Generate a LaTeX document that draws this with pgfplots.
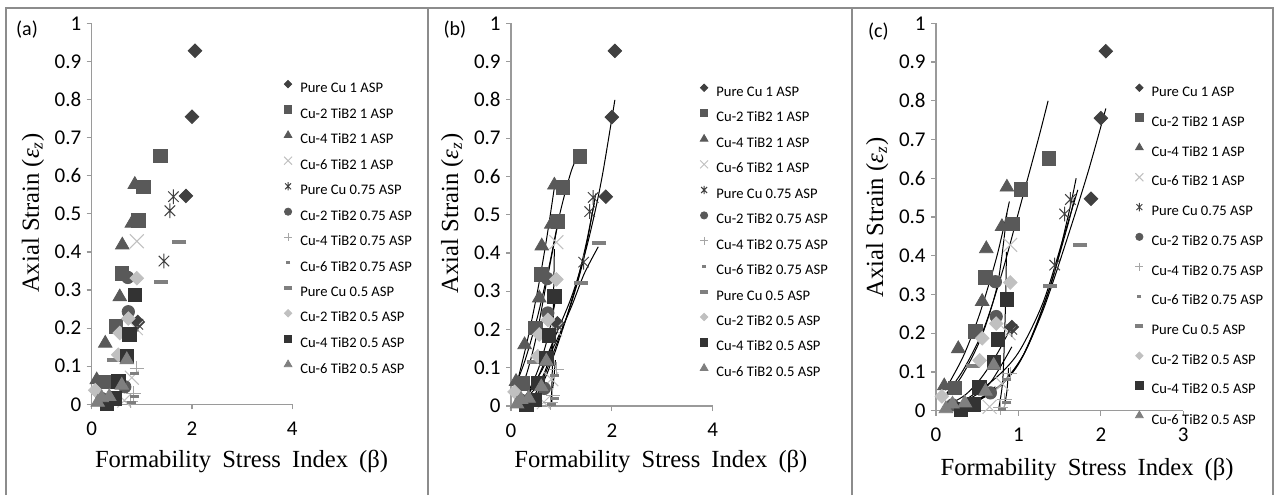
\documentclass[border=0pt]{standalone}
\usepackage{pgfplots}
\pgfplotsset{compat=1.18}
\usepackage{pgfplotstable}
\usepackage{fontspec}
\setmainfont{Carlito}
\newfontfamily\serif{Liberation Serif}

\definecolor{dk}{HTML}{404040}
\definecolor{md}{HTML}{595959}
\definecolor{gr}{HTML}{7F7F7F}
\definecolor{lt}{HTML}{A6A6A6}
\definecolor{vl}{HTML}{C0C0C0}
\definecolor{bk}{HTML}{333333}
\definecolor{axisgray}{HTML}{9A9A9A}
\definecolor{framegray}{HTML}{8C8C8C}

% X with a vertical bar through it
\pgfdeclareplotmark{xstar}{%
  \pgfpathmoveto{\pgfqpoint{-.7071\pgfplotmarksize}{-.7071\pgfplotmarksize}}%
  \pgfpathlineto{\pgfqpoint{.7071\pgfplotmarksize}{.7071\pgfplotmarksize}}%
  \pgfpathmoveto{\pgfqpoint{-.7071\pgfplotmarksize}{.7071\pgfplotmarksize}}%
  \pgfpathlineto{\pgfqpoint{.7071\pgfplotmarksize}{-.7071\pgfplotmarksize}}%
  \pgfpathmoveto{\pgfqpoint{0pt}{-\pgfplotmarksize}}%
  \pgfpathlineto{\pgfqpoint{0pt}{\pgfplotmarksize}}%
  \pgfusepathqstroke}

% measured points: formability stress index vs axial strain
\pgfplotstableread{
x y
0.92 0.216
1.88 0.547
2.00 0.755
2.06 0.928
}\tA
\pgfplotstableread{
x y
0.23 0.059
0.48 0.204
0.60 0.344
0.93 0.482
1.03 0.571
1.37 0.652
}\tB
\pgfplotstableread{
x y
0.10 0.064
0.27 0.160
0.56 0.282
0.61 0.418
0.80 0.475
0.86 0.577
}\tC
\pgfplotstableread{
x y
0.65 0.010
0.80 0.070
0.88 0.200
0.90 0.428
}\tD
\pgfplotstableread{
x y
0.92 0.210
1.44 0.376
1.56 0.508
1.63 0.545
}\tE
\pgfplotstableread{
x y
0.20 0.015
0.66 0.046
0.73 0.243
0.72 0.333
}\tF
\pgfplotstableread{
x y
0.78 0.008
0.83 0.028
0.90 0.095
}\tG
\pgfplotstableread{
x y
0.80 0.004
0.86 0.020
0.86 0.080
}\tH
\pgfplotstableread{
x y
0.45 0.116
1.38 0.322
1.75 0.427
}\tI
\pgfplotstableread{
x y
0.07 0.037
0.53 0.130
0.56 0.187
0.73 0.225
0.90 0.331
}\tJ
\pgfplotstableread{
x y
0.30 0.003
0.46 0.016
0.53 0.060
0.70 0.125
0.75 0.184
0.86 0.287
}\tK
\pgfplotstableread{
x y
0.12 0.005
0.20 0.017
0.35 0.020
0.60 0.050
0.70 0.117
}\tL

\pgfplotsset{
  lim/.style={legend image code/.code={%
      \path[draw=none, fill=none] (-2pt,0.3pt) rectangle (2pt,4.3pt);
      \draw[##1, mark size=#1] plot coordinates {(0pt,2.3pt)};}},
  sA/.style={only marks, color=dk, mark=square*, mark size=2.4pt, mark options={rotate=45}, lim=1.3pt},
  sB/.style={only marks, color=md, mark=square*, mark size=3.4pt, lim=1.8pt},
  sC/.style={only marks, color=md, mark=triangle*, mark size=3.9pt, lim=2.2pt},
  sD/.style={only marks, color=vl, mark=x, mark size=4.9pt, mark options={line width=0.5pt}, lim=2.8pt},
  sE/.style={only marks, color=dk, mark=xstar, mark size=3.7pt, mark options={line width=0.5pt}, lim=2.1pt},
  sF/.style={only marks, color=md, mark=*, mark size=3.1pt, lim=1.8pt},
  sG/.style={only marks, color=lt, mark=+, mark size=3.6pt, mark options={line width=0.5pt}, lim=2pt},
  sH/.style={only marks, color=gr, mark=-, mark size=2.2pt, mark options={line width=1.5pt}, lim=1pt},
  sI/.style={only marks, color=gr, mark=-, mark size=3.5pt, mark options={line width=2pt}, lim=2pt},
  sJ/.style={only marks, color=vl, mark=square*, mark size=2.4pt, mark options={rotate=45}, lim=1.3pt},
  sK/.style={only marks, color=bk, mark=square*, mark size=3.4pt, lim=1.8pt},
  sL/.style={only marks, color=gr, mark=triangle*, mark size=3.9pt, lim=2.2pt},
  fit/.style={black, line width=0.5pt, smooth, mark=none, forget plot},
  panel/.style={
    scale only axis, clip=false,
    axis lines=left, axis line style={-, draw=axisgray, line width=0.6pt},
    tick style={draw=axisgray, line width=0.6pt},
    tick align=outside, major tick length=2.5pt,
    ymin=0, ymax=1, ytick={0,0.1,...,1},
    /pgf/number format/assume math mode=true,
    ticklabel style={font=\fontsize{10.5pt}{12pt}\selectfont},
    yticklabel style={inner sep=0pt, xshift=-2.5pt},
    xticklabel style={inner sep=0pt, yshift=-6pt},
    label style={font=\serif\fontsize{12.3pt}{14pt}\selectfont},
    legend cell align=left,
    legend style={draw=none, fill=none, anchor=north west, inner sep=0pt,
      column sep=4.1pt, font=\fontsize{7.3pt}{8pt}\selectfont,
      nodes={inner sep=0pt, text height=5.5pt, text depth=1.5pt}},
  },
}

\newcommand{\scatterall}{%
  \addplot[sA] table {\tA}; \addlegendentry{Pure Cu 1 ASP}
  \addplot[sB] table {\tB}; \addlegendentry{Cu-2 TiB2 1 ASP}
  \addplot[sC] table {\tC}; \addlegendentry{Cu-4 TiB2 1 ASP}
  \addplot[sD] table {\tD}; \addlegendentry{Cu-6 TiB2 1 ASP}
  \addplot[sE] table {\tE}; \addlegendentry{Pure Cu 0.75 ASP}
  \addplot[sF] table {\tF}; \addlegendentry{Cu-2 TiB2 0.75 ASP}
  \addplot[sG] table {\tG}; \addlegendentry{Cu-4 TiB2 0.75 ASP}
  \addplot[sH] table {\tH}; \addlegendentry{Cu-6 TiB2 0.75 ASP}
  \addplot[sI] table {\tI}; \addlegendentry{Pure Cu 0.5 ASP}
  \addplot[sJ] table {\tJ}; \addlegendentry{Cu-2 TiB2 0.5 ASP}
  \addplot[sK] table {\tK}; \addlegendentry{Cu-4 TiB2 0.5 ASP}
  \addplot[sL] table {\tL}; \addlegendentry{Cu-6 TiB2 0.5 ASP}
}
\newcommand{\ylab}{Axial Strain (\textit{ε}\textsubscript{\textit{z}})}
\newcommand{\xlab}{Formability\hspace{0.45em}Stress\hspace{0.45em}Index\hspace{0.45em}(β)}

\begin{document}
\begin{tikzpicture}
\useasboundingbox (0pt,0pt) rectangle (637.5pt,247.5pt);
\fill[white] (0pt,0pt) rectangle (637.5pt,247.5pt);
% panel frames
\draw[framegray, line width=0.7pt] (3pt,0pt) -- (3pt,243.5pt) -- (636.5pt,243.5pt) -- (636.5pt,0pt);
\draw[framegray, line width=0.7pt] (214pt,0pt) -- (214pt,243.5pt);
\draw[framegray, line width=0.7pt] (426pt,0pt) -- (426pt,243.5pt);

% (a) data points
\begin{axis}[panel, at={(45.85pt,45.35pt)}, anchor=south west,
  width=100.3pt, height=190.5pt, xmin=0, xmax=4, xtick={0,2,4},
  xlabel={\xlab}, ylabel={\ylab},
  xlabel style={at={(axis description cs:0.747,-0.1514)}, anchor=center},
  ylabel style={at={(axis description cs:-0.2926,0.502)}, anchor=center},
  legend style={at={(axis description cs:0.957,0.852)}, row sep=4.9pt}]
\scatterall
\end{axis}
\node[font=\fontsize{10pt}{12pt}\selectfont] at (13.5pt,232.5pt) {(a)};

% (b) data points with polynomial fits
\begin{axis}[panel, at={(255.5pt,44.5pt)}, anchor=south west,
  width=100.85pt, height=191.35pt, xmin=0, xmax=4, xtick={0,2,4},
  xlabel={\xlab}, ylabel={\ylab},
  xlabel style={at={(axis description cs:0.743,-0.1455)}, anchor=center},
  ylabel style={at={(axis description cs:-0.291,0.5035)}, anchor=center},
  legend style={at={(axis description cs:0.9356,0.843)}, row sep=4.9pt}]
\scatterall
\addplot[fit] coordinates {(0.08,0.05)(0.28,0.12)(0.51,0.225)(0.74,0.355)(0.97,0.503)(1.2,0.616)(1.37,0.664)};
\addplot[fit] coordinates {(0.12,0.06)(0.34,0.18)(0.54,0.31)(0.71,0.44)(0.87,0.58)};
\addplot[fit] coordinates {(0.1,0.02)(0.3,0.08)(0.5,0.18)(0.7,0.32)(0.95,0.49)};
\addplot[fit] coordinates {(0.15,0.005)(0.35,0.04)(0.55,0.1)(0.75,0.19)(0.9,0.29)};
\addplot[fit] coordinates {(0.12,0.0)(0.3,0.02)(0.5,0.05)(0.7,0.1)(0.92,0.22)};
\addplot[fit] coordinates {(0.80,0.0)(0.82,0.1)(0.84,0.25)(0.86,0.41)};
\addplot[fit] coordinates {(0.78,0.005)(0.84,0.06)(0.88,0.12)};
\addplot[fit] coordinates {(0.28,0.016)(0.54,0.077)(0.87,0.18)(1.2,0.285)(1.47,0.40)(1.67,0.51)(1.83,0.616)(2.06,0.80)};
\addplot[fit] coordinates {(0.35,0.005)(0.6,0.06)(0.9,0.16)(1.2,0.27)(1.45,0.39)(1.68,0.555)};
\addplot[fit] coordinates {(0.3,0.025)(0.6,0.09)(0.9,0.17)(1.2,0.26)(1.45,0.345)(1.73,0.416)};
\addplot[fit] coordinates {(0.4,0.0)(0.7,0.08)(1.0,0.19)(1.3,0.32)(1.5,0.43)(1.65,0.53)};
\end{axis}
\node[font=\fontsize{10pt}{12pt}\selectfont] at (227.5pt,232.5pt) {(b)};

% (c) data points with exponential fits
\begin{axis}[panel, at={(468pt,42.15pt)}, anchor=south west,
  width=123.65pt, height=193.7pt, xmin=0, xmax=3, xtick={0,1,2,3},
  xlabel={\xlab}, ylabel={\ylab},
  xlabel style={at={(axis description cs:0.611,-0.1513)}, anchor=center},
  ylabel style={at={(axis description cs:-0.2374,0.4987)}, anchor=center},
  legend style={at={(axis description cs:0.8046,0.845)}, row sep=7.05pt}]
\scatterall
\addplot[fit] coordinates {(0.13,0.045)(0.33,0.105)(0.575,0.209)(0.80,0.355)(1.02,0.527)(1.24,0.70)(1.36,0.80)};
\addplot[fit] coordinates {(0.11,0.053)(0.33,0.14)(0.53,0.25)(0.74,0.40)(0.89,0.54)};
\addplot[fit] coordinates {(0.08,0.03)(0.3,0.085)(0.55,0.19)(0.75,0.33)(0.86,0.51)};
\addplot[fit] coordinates {(0.1,0.01)(0.35,0.04)(0.55,0.085)(0.75,0.15)(0.92,0.22)};
\addplot[fit] coordinates {(0.12,0.005)(0.4,0.03)(0.65,0.07)(0.92,0.165)};
\addplot[fit] coordinates {(0.15,0.005)(0.4,0.02)(0.6,0.04)(0.72,0.062)};
\addplot[fit] coordinates {(0.76,0.005)(0.81,0.08)(0.84,0.25)(0.855,0.41)};
\addplot[fit] coordinates {(0.82,0.0)(0.86,0.05)(0.88,0.11)};
\addplot[fit] coordinates {(0.3,0.005)(0.7,0.05)(1.0,0.12)(1.3,0.26)(1.6,0.45)(1.85,0.62)(2.06,0.78)};
\addplot[fit] coordinates {(0.4,0.01)(0.8,0.07)(1.1,0.16)(1.4,0.33)(1.6,0.5)(1.7,0.6)};
\addplot[fit] coordinates {(0.3,0.02)(0.7,0.08)(1.0,0.15)(1.3,0.28)(1.55,0.45)(1.72,0.57)};
\addplot[fit] coordinates {(0.35,0.01)(0.75,0.06)(1.05,0.14)(1.35,0.3)(1.6,0.48)(1.68,0.55)};
\end{axis}
\node[font=\fontsize{10pt}{12pt}\selectfont] at (439.2pt,231.5pt) {(c)};
\end{tikzpicture}
\end{document}
